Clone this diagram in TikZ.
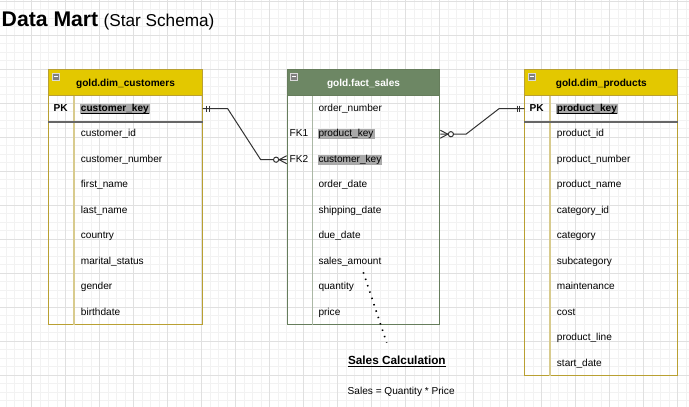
\documentclass[tikz,border=0pt]{standalone}
\usepackage{fontspec}
\setmainfont{Liberation Sans}
\usepackage{tikz}
\usetikzlibrary{positioning,calc}

\definecolor{dimfill}{HTML}{E3C800}
\definecolor{dimline}{HTML}{B9A032}
\definecolor{factfill}{HTML}{6D8764}
\definecolor{factline}{HTML}{667D5C}
\definecolor{keyfill}{HTML}{A9A9A9}
\definecolor{gridmajor}{HTML}{E0E0E0}
\definecolor{gridminor}{HTML}{F2F2F2}
\definecolor{linkgrey}{HTML}{333333}

\newcommand{\rowfont}{\fontsize{10.1}{12}\selectfont}

\tikzset{
    x=1pt,
    y=-1pt,
    tablebox/.style = {
        draw,
        shape=rectangle,
        anchor=north west,
        inner sep=0pt,
        line width=1pt
    },
    headbox/.style = {
        tablebox,
        minimum height=25.7,
        text height=9.5pt,
        text depth=1.3pt,
        font=\rowfont\bfseries
    },
    icon/.style = {
        draw=white!70!gray,
        fill=gray,
        shape=rectangle,
        minimum size=6.5,
        inner sep=0pt,
        line width=0.8pt
    },
    colsplit/.style = {line width=1.5pt},
    keysplit/.style = {draw=black!60, line width=1.6pt},
    fieldtext/.style = {
        anchor=west,
        font=\rowfont,
        inner xsep=1pt,
        inner ysep=0.4pt,
        text height=7.4pt,
        text depth=2.2pt
    },
    keytext/.style = {fieldtext, fill=keyfill},
    pktext/.style = {keytext, font=\rowfont\bfseries},
    keylabel/.style = {fieldtext, inner xsep=0pt},
    link/.style = {draw=linkgrey, line width=1pt},
    notebox/.style = {anchor=west, inner sep=0pt},
}

\begin{document}
\begin{tikzpicture}
    \useasboundingbox (0,0) rectangle (689,407);
    \fill[white] (0,0) rectangle (689,407);
    \draw[gridminor, line width=0.7pt, step=8.5pt, shift={(-2.5pt,-1pt)}] (-10,420) grid (700,-10);
    \draw[gridmajor, line width=0.9pt, step=34pt, shift={(-2.5pt,-1pt)}] (-10,420) grid (700,-10);

    \node[anchor=base west, inner sep=0pt] (title) at (1.5,26.7)
        {{\fontsize{21.2}{24}\selectfont\bfseries Data Mart}\hspace{2.5pt} {\fontsize{17.2}{20}\selectfont (Star Schema)}};

    % dimension: customers
    \node[tablebox, draw=dimline, minimum width=153.4, minimum height=254.4] (cust) at (48.3,69.3) {};
    \node[headbox, draw=dimline, fill=dimfill, minimum width=153.4] (custhead) at (48.3,69.3) {gold.dim\_customers};
    \node[icon] (custicon) at (55.7,76.7) {\textcolor{white}{\rule{4pt}{1.3pt}}};
    \path[draw, colsplit, dimline!55] ($(custhead.south west)+(25.7,0)$) -- ($(cust.south west)+(25.7,0)$);
    \path[draw, keysplit] ($(custhead.south west)+(0,25.7)$) -- ($(custhead.south east)+(0,25.7)$);
    \node[keylabel, font=\rowfont\bfseries] (custpk) at (53.5,108.7) {PK};
    \node[pktext] (ckey) at (79.7,108.7) {\underline{\smash{customer\_key}}};
    \node[fieldtext] (cid) at (79.7,134.2) {customer\_id};
    \node[fieldtext] (cnum) at (79.7,159.7) {customer\_number};
    \node[fieldtext] (cfirst) at (79.7,185.2) {first\_name};
    \node[fieldtext] (clast) at (79.7,210.7) {last\_name};
    \node[fieldtext] (ccountry) at (79.7,236.2) {country};
    \node[fieldtext] (cmarital) at (79.7,261.7) {marital\_status};
    \node[fieldtext] (cgender) at (79.7,287.2) {gender};
    \node[fieldtext] (cbirth) at (79.7,312.7) {birthdate};

    % fact: sales
    \node[tablebox, draw=factline, minimum width=152.6, minimum height=255] (sales) at (286.7,69.3) {};
    \node[headbox, draw=factline, fill=factfill, text=white, minimum width=152.6] (saleshead) at (286.7,69.3) {gold.fact\_sales};
    \node[icon] (salesicon) at (294.1,76.7) {\textcolor{white}{\rule{4pt}{1.3pt}}};
    \path[draw, colsplit, factline!55] ($(saleshead.south west)+(25.6,0)$) -- ($(sales.south west)+(25.6,0)$);
    \node[fieldtext] (forder) at (317.3,108.7) {order\_number};
    \node[keylabel] (fkone) at (289.5,134.2) {FK1};
    \node[keytext] (fpkey) at (317.3,134.2) {product\_key};
    \node[keylabel] (fktwo) at (289.5,159.7) {FK2};
    \node[keytext] (fckey) at (317.3,159.7) {customer\_key};
    \node[fieldtext] (fodate) at (317.3,185.2) {order\_date};
    \node[fieldtext] (fsdate) at (317.3,210.7) {shipping\_date};
    \node[fieldtext] (fddate) at (317.3,236.2) {due\_date};
    \node[fieldtext] (famount) at (317.3,261.7) {sales\_amount};
    \node[fieldtext] (fqty) at (317.3,287.2) {quantity};
    \node[fieldtext] (fprice) at (317.3,312.7) {price};

    % dimension: products
    \node[tablebox, draw=dimline, minimum width=153, minimum height=305.7] (prod) at (524.3,69.3) {};
    \node[headbox, draw=dimline, fill=dimfill, minimum width=153] (prodhead) at (524.3,69.3) {gold.dim\_products};
    \node[icon] (prodicon) at (531.7,76.7) {\textcolor{white}{\rule{4pt}{1.3pt}}};
    \path[draw, colsplit, dimline!55] ($(prodhead.south west)+(25.7,0)$) -- ($(prod.south west)+(25.7,0)$);
    \path[draw, keysplit] ($(prodhead.south west)+(0,25.7)$) -- ($(prodhead.south east)+(0,25.7)$);
    \node[keylabel, font=\rowfont\bfseries] (prodpk) at (529.5,108.7) {PK};
    \node[pktext] (pkey) at (555.7,108.7) {\underline{\smash{product\_key}}};
    \node[fieldtext] (pid) at (555.7,134.2) {product\_id};
    \node[fieldtext] (pnum) at (555.7,159.7) {product\_number};
    \node[fieldtext] (pname) at (555.7,185.2) {product\_name};
    \node[fieldtext] (pcatid) at (555.7,210.7) {category\_id};
    \node[fieldtext] (pcat) at (555.7,236.2) {category};
    \node[fieldtext] (psubcat) at (555.7,261.7) {subcategory};
    \node[fieldtext] (pmaint) at (555.7,287.2) {maintenance};
    \node[fieldtext] (pcost) at (555.7,312.7) {cost};
    \node[fieldtext] (pline) at (555.7,338.2) {product\_line};
    \node[fieldtext] (pstart) at (555.7,363.7) {start\_date};

    % customers -> sales
    \path[link] (cust.east |- ckey) -- ++(25,0) -- ($(sales.west |- fckey)+(-26,0)$) -- (sales.west |- fckey);
    \path[link] ($(cust.east |- ckey)+(4,-3)$) -- ++(0,6);
    \path[link] ($(cust.east |- ckey)+(6.6,-3)$) -- ++(0,6);
    \path[link] ($(sales.west |- fckey)+(-7.5,0)$) -- ($(sales.west |- fckey)+(0,-4)$);
    \path[link] ($(sales.west |- fckey)+(-7.5,0)$) -- ($(sales.west |- fckey)+(0,4)$);
    \path[link, fill=white] ($(sales.west |- fckey)+(-10.6,0)$) circle (2.6);

    % sales -> products
    \path[link] (sales.east |- fpkey) -- ++(25.7,0) -- ($(prod.west |- pkey)+(-25.3,0)$) -- (prod.west |- pkey);
    \path[link] ($(prod.west |- pkey)+(-4.5,-3)$) -- ++(0,6);
    \path[link] ($(prod.west |- pkey)+(-7.1,-3)$) -- ++(0,6);
    \path[link] ($(sales.east |- fpkey)+(7.5,0)$) -- ($(sales.east |- fpkey)+(0,-4)$);
    \path[link] ($(sales.east |- fpkey)+(7.5,0)$) -- ($(sales.east |- fpkey)+(0,4)$);
    \path[link, fill=white] ($(sales.east |- fpkey)+(10.6,0)$) circle (2.6);

    % note
    \coordinate (calcfrom) at (363.3,272.3);
    \coordinate (calcto) at (386.7,342.7);
    \path[draw, line width=1.6pt, dash pattern=on 1.4pt off 5.3pt] (calcfrom) -- (calcto);
    \node[notebox, font=\fontsize{11.8}{14}\selectfont\bfseries] (calchead) at (347.8,361.7) {\underline{Sales Calculation}};
    \node[notebox, font=\rowfont] (calcbody) at (347.5,391.7) {Sales = Quantity * Price};
\end{tikzpicture}
\end{document}
